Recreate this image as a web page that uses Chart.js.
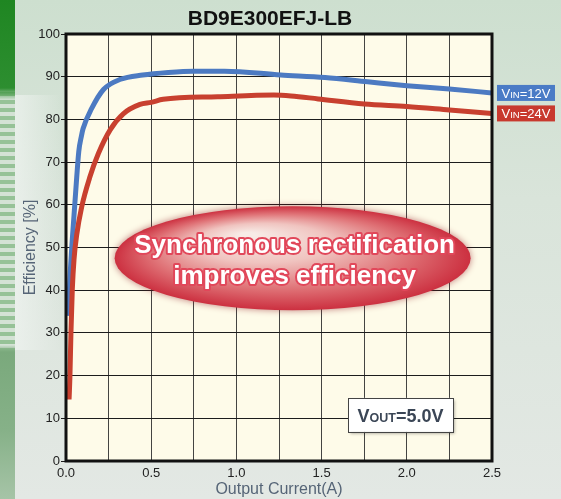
<!DOCTYPE html>
<html>
<head>
<meta charset="utf-8">
<script src="https://cdn.jsdelivr.net/npm/chart.js@4.4.1/dist/chart.umd.min.js"></script>
<style>
  html, body { margin: 0; padding: 0; }
  body {
    width: 561px; height: 499px; position: relative; overflow: hidden;
    background: linear-gradient(180deg, #cddfcf 0%, #d9e4da 40%, #e3e8e4 100%);
  }
  #strip {
    position: absolute; left: 0; top: 0; width: 15px; height: 499px;
    background:
      linear-gradient(180deg, #1f8622 0px, #2d8e30 88px, rgba(45,142,48,0) 100px,
        rgba(0,0,0,0) 345px, #7aa97c 352px, #86b188 430px, #a6c4a7 499px),
      repeating-linear-gradient(180deg, #d4e2d5 0px, #d4e2d5 4px, #96c297 4px, #96c297 8px);
  }
  #glow {
    position: absolute; left: 15px; top: 95px; width: 45px; height: 255px;
    background: linear-gradient(90deg, rgba(240,244,241,0.7), rgba(240,244,241,0));
  }
  canvas { position: absolute; left: 0; top: 0; }
</style>
</head>
<body>
<div id="strip"></div>
<div id="glow"></div>
<canvas id="chart" width="561" height="499"></canvas>
<script>
// efficiency curves
const current12 = [0.015, 0.02, 0.033, 0.047, 0.063, 0.075, 0.09, 0.1, 0.15, 0.22, 0.32, 0.45, 0.6, 0.75, 0.93, 1.26, 1.52, 1.77, 2.0, 2.25, 2.5];
const eff12 = [34, 40, 49.5, 57.5, 66.5, 72.5, 76, 77.8, 82.5, 87, 89.4, 90.4, 91, 91.3, 91.3, 90.4, 89.8, 88.8, 87.9, 87.1, 86.2];

const current24 = [0.018, 0.023, 0.029, 0.037, 0.047, 0.063, 0.092, 0.14, 0.19, 0.26, 0.336, 0.434, 0.5, 0.57, 0.89, 1.22, 1.32, 1.48, 1.75, 2.0, 2.25, 2.5];
const eff24 = [14.4, 19.8, 30, 40.2, 47.2, 53, 59.5, 66.5, 72, 77.6, 81.3, 83.5, 84, 84.7, 85.3, 85.7, 85.5, 84.8, 83.6, 83, 82.2, 81.4];

const seriesLabels = [['V', 'IN', '=12V'], ['V', 'IN', '=24V']];
const seriesColors = ['#4c7ac2', '#c8402f'];

const chartTitle = 'BD9E300EFJ-LB';
const xTitle = 'Output Current(A)';
const yTitle = 'Efficiency [%]';
const noteLines = ['Synchronous rectification', 'improves efficiency'];
const voutParts = ['V', 'OUT', '=5.0V'];

// annotation anchors in data units
const noteAt = { x: 1.33, y: 47.5 };
const voutAt = { x: 1.963, y: 10.8 };

const FONT = '"Liberation Sans", Arial, sans-serif';

function pairs(xs, ys) {
  return xs.map((x, i) => ({ x, y: ys[i] }));
}

function partsWidth(ctx, parts, big, small) {
  let w = 0;
  parts.forEach((p, i) => {
    ctx.font = i === 1 ? small : big;
    w += ctx.measureText(p).width;
  });
  return w;
}

function drawParts(ctx, parts, x, y, big, small) {
  let cx = x;
  parts.forEach((p, i) => {
    ctx.font = i === 1 ? small : big;
    ctx.fillText(p, cx, y);
    cx += ctx.measureText(p).width;
  });
}

const decor = {
  id: 'decor',
  beforeDraw(chart) {
    const { ctx, chartArea: a } = chart;
    ctx.save();
    ctx.fillStyle = '#fefbe9';
    ctx.fillRect(a.left, a.top, a.right - a.left, a.bottom - a.top);
    ctx.restore();
  },
  afterDatasetsDraw(chart) {
    const { ctx, chartArea: a, scales } = chart;
    const xs = scales.x, ys = scales.y;

    // frame
    ctx.save();
    ctx.strokeStyle = '#111';
    ctx.lineWidth = 3;
    ctx.strokeRect(a.left, a.top, a.right - a.left, a.bottom - a.top);
    ctx.restore();

    // title
    ctx.save();
    ctx.fillStyle = '#111';
    ctx.font = 'bold 21px ' + FONT;
    ctx.textAlign = 'center';
    ctx.textBaseline = 'alphabetic';
    ctx.fillText(chartTitle, (a.left + a.right) / 2 - 9, 25);
    ctx.restore();

    // series labels at the end of each curve
    [eff12, eff24].forEach((ser, i) => {
      const yEnd = ys.getPixelForValue(ser[ser.length - 1]);
      const bx = a.right + 5, bw = 58, bh = 16;
      ctx.save();
      ctx.fillStyle = i === 0 ? '#4a7bc6' : '#c8392e';
      ctx.fillRect(bx, yEnd - bh / 2, bw, bh);
      ctx.fillStyle = '#fff';
      ctx.textBaseline = 'alphabetic';
      const big = '13px ' + FONT, small = '9.5px ' + FONT;
      const w = partsWidth(ctx, seriesLabels[i], big, small);
      drawParts(ctx, seriesLabels[i], bx + (bw - w) / 2, yEnd + 5, big, small);
      ctx.restore();
    });

    // red ellipse note
    const cx = xs.getPixelForValue(noteAt.x);
    const cy = ys.getPixelForValue(noteAt.y);
    const rx = 178, ry = 52;
    ctx.save();
    ctx.shadowColor = 'rgba(140,20,30,0.55)';
    ctx.shadowBlur = 7;
    ctx.translate(cx, cy);
    ctx.scale(1, ry / rx);
    const g = ctx.createRadialGradient(-45, -80, 8, 0, 0, rx);
    g.addColorStop(0, '#f7ebe6');
    g.addColorStop(0.35, '#f0c4c0');
    g.addColorStop(0.7, '#e07478');
    g.addColorStop(1, '#cc3040');
    ctx.fillStyle = g;
    ctx.beginPath();
    ctx.arc(0, 0, rx, 0, Math.PI * 2);
    ctx.fill();
    ctx.restore();

    ctx.save();
    ctx.font = 'bold 26px ' + FONT;
    ctx.textAlign = 'center';
    ctx.textBaseline = 'alphabetic';
    ctx.lineJoin = 'round';
    ctx.strokeStyle = '#e1475a';
    ctx.lineWidth = 4;
    noteLines.forEach((t, i) => {
      ctx.strokeText(t, cx + 2, cy - 5 + i * 31);
    });
    ctx.fillStyle = '#fff';
    noteLines.forEach((t, i) => {
      ctx.fillText(t, cx + 2, cy - 5 + i * 31);
    });
    ctx.restore();

    // VOUT box
    const vx = xs.getPixelForValue(voutAt.x);
    const vy = ys.getPixelForValue(voutAt.y);
    const bw = 105, bh = 34;
    ctx.save();
    ctx.shadowColor = 'rgba(0,0,0,0.35)';
    ctx.shadowBlur = 3;
    ctx.shadowOffsetX = 2;
    ctx.shadowOffsetY = 2;
    ctx.fillStyle = '#fff';
    ctx.fillRect(vx - bw / 2, vy - bh / 2, bw, bh);
    ctx.restore();
    ctx.save();
    ctx.strokeStyle = '#444';
    ctx.lineWidth = 1;
    ctx.strokeRect(Math.round(vx - bw / 2) + 0.5, Math.round(vy - bh / 2) + 0.5, bw, bh);
    ctx.fillStyle = '#3b4656';
    const big = 'bold 18px ' + FONT, small = 'bold 12.5px ' + FONT;
    const w = partsWidth(ctx, voutParts, big, small);
    drawParts(ctx, voutParts, vx - w / 2, vy + 7, big, small);
    ctx.restore();
  }
};

const ctx = document.getElementById('chart').getContext('2d');
new Chart(ctx, {
  type: 'scatter',
  data: {
    datasets: [
      {
        label: 'VIN=12V',
        data: pairs(current12, eff12),
        showLine: true,
        borderColor: seriesColors[0],
        borderWidth: 5,
        pointRadius: 0,
        cubicInterpolationMode: 'monotone',
        order: 2,
      },
      {
        label: 'VIN=24V',
        data: pairs(current24, eff24),
        showLine: true,
        borderColor: seriesColors[1],
        borderWidth: 5,
        pointRadius: 0,
        cubicInterpolationMode: 'monotone',
        order: 1,
      },
    ],
  },
  options: {
    responsive: false,
    animation: false,
    layout: { padding: { top: 34, right: 69, left: 0, bottom: 0 } },
    scales: {
      x: {
        type: 'linear',
        min: 0,
        max: 2.5,
        afterFit: (s) => { s.height = 38; },
        grid: { color: '#444442', lineWidth: 1, drawTicks: false },
        border: { display: false },
        ticks: {
          stepSize: 0.25,
          autoSkip: false,
          maxRotation: 0,
          padding: 5,
          color: '#222',
          font: { family: FONT, size: 13 },
          callback: (v) => (Math.round(v * 4) % 2 === 0 ? Number(v).toFixed(1) : ''),
        },
        title: {
          display: true,
          text: xTitle,
          color: '#566577',
          font: { family: FONT, size: 16 },
          padding: { top: 0, bottom: 0 },
        },
      },
      y: {
        min: 0,
        max: 100,
        afterFit: (s) => { s.width = 66; },
        grid: { color: '#1c1c1c', lineWidth: 1, tickLength: 5 },
        border: { display: false },
        ticks: {
          stepSize: 10,
          padding: 1,
          color: '#222',
          font: { family: FONT, size: 13 },
        },
        title: {
          display: true,
          text: yTitle,
          color: '#566577',
          font: { family: FONT, size: 16 },
          padding: { top: 21, bottom: 0 },
        },
      },
    },
    plugins: {
      legend: { display: false },
      tooltip: { enabled: false },
    },
  },
  plugins: [decor],
});
</script>
</body>
</html>
